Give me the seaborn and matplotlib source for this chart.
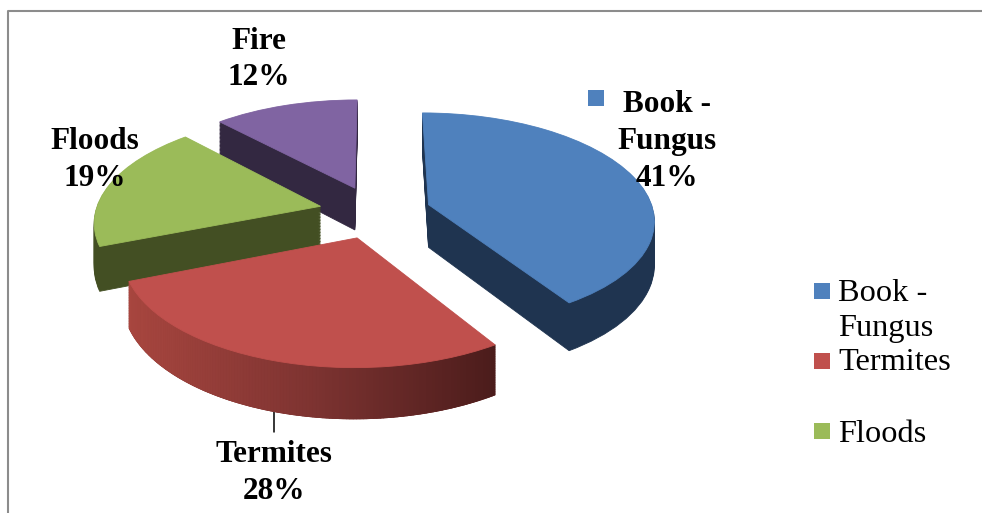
import numpy as np
import matplotlib
matplotlib.use('Agg')
import matplotlib.pyplot as plt
import seaborn as sns
from matplotlib.collections import PolyCollection
from matplotlib.colors import LinearSegmentedColormap
from matplotlib.transforms import Transform

categories = ['Book -\nFungus', 'Termites', 'Floods', 'Fire']
shares = [41, 28, 19, 12]
legend_labels = ['Book -\nFungus', 'Termites', 'Floods']

top_colors = ['#4F81BD', '#C0504D', '#9BBB59', '#8064A2']
side_colors = ['#1F3450', '#7A3230', '#434F23', '#332841']
termite_shade = LinearSegmentedColormap.from_list('shade', ['#A8463F', '#7D3331', '#4B1C1B'])

# pixel placement of the tilted pie
CX, CY = 375, 212
RX, RY = 225, 105.5
TILT = 0.13
DEPTH = 43


class TiltedPie(Transform):
    input_dims = 2
    output_dims = 2

    def __init__(self, lift=0):
        super().__init__()
        self.lift = lift

    def transform_non_affine(self, values):
        values = np.asarray(values, dtype=float)
        w = 1 + TILT * values[:, 1]
        px = CX + RX * values[:, 0] / w
        py = CY - (RY * values[:, 1] - self.lift) / w
        return np.column_stack([px, py])


sns.set_theme(style='white')
plt.rcParams['font.family'] = ['Liberation Serif', 'DejaVu Serif']

fig = plt.figure(figsize=(9.82, 5.13), dpi=100)
ax = fig.add_axes([0, 0, 1, 1])

# rank: back slices first, termites last
rank = {0: 2, 1: 4, 2: 3, 3: 1}


def draw_pie(lift, colors, level):
    wedges, _ = ax.pie(shares, explode=[0.25] * 4, startangle=90, counterclock=False,
                       radius=1, colors=colors)
    for i, w in enumerate(wedges):
        w.set_transform(TiltedPie(lift) + ax.transData)
        w.set_zorder(rank[i] + level)
        w.set_clip_on(False)
        w.set_edgecolor(colors[i])
        w.set_linewidth(0.6)
    return wedges


for lift in np.arange(DEPTH, 0, -1.5):
    draw_pie(lift, side_colors, 0.1)
tops = draw_pie(0, top_colors, 0.6)

# shaded outer wall of the termites slice
wall = tops[1]
thetas = np.radians(np.linspace(wall.theta1, wall.theta2, 140))
cx, cy = wall.center
rim = np.column_stack([cx + np.cos(thetas), cy + np.sin(thetas)])
upper = TiltedPie(0).transform(rim)
lower = TiltedPie(DEPTH).transform(rim)
quads = [[upper[i], upper[i + 1], lower[i + 1], lower[i]] for i in range(len(rim) - 1)]
pos = (upper[:-1, 0] - upper[:, 0].min()) / (upper[:, 0].max() - upper[:, 0].min())
shade = termite_shade(pos)
ax.add_collection(PolyCollection(quads, facecolors=shade, edgecolors=shade, linewidths=0.6,
                                 zorder=rank[1] + 0.3))

ax.set_aspect('auto')
ax.set_xlim(0, 982)
ax.set_ylim(513, 0)
ax.set_frame_on(False)

# chart area border
ax.plot([8, 8, 982], [513, 11, 11], color='#8C8C8C', lw=1.5, zorder=0, clip_on=False)

# leader line for termites
ax.plot([274, 274], [405, 432], color='black', lw=1.1, zorder=0.5)

label_style = dict(ha='center', va='center', fontsize=22.5, fontweight='bold', color='black',
                   linespacing=1.36, zorder=10)
ax.text(667, 141.5, f'{categories[0]}\n{shares[0]}%', **label_style)
ax.text(274, 473, f'{categories[1]}\n{shares[1]}%', **label_style)
ax.text(95, 160, f'{categories[2]}\n{shares[2]}%', **label_style)
ax.text(259, 59.5, f'{categories[3]}\n{shares[3]}%', **label_style)
ax.plot(596, 98, marker='s', ms=11.5, color=top_colors[0], mew=0, zorder=10)

# legend, the fourth entry falls outside the picture in the source
key_rows = [291, 361, 431]
text_rows = [311, 362.5, 434]
for label, color, row, text_row in zip(legend_labels, top_colors, key_rows, text_rows):
    ax.plot(822, row, marker='s', ms=11.5, color=color, mew=0, zorder=10)
    ax.text(838, text_row, label, ha='left', va='center', fontsize=23.3, color='black',
            linespacing=1.3, zorder=10)

fig.savefig('out.png', dpi=100, facecolor='white')
plt.close(fig)
